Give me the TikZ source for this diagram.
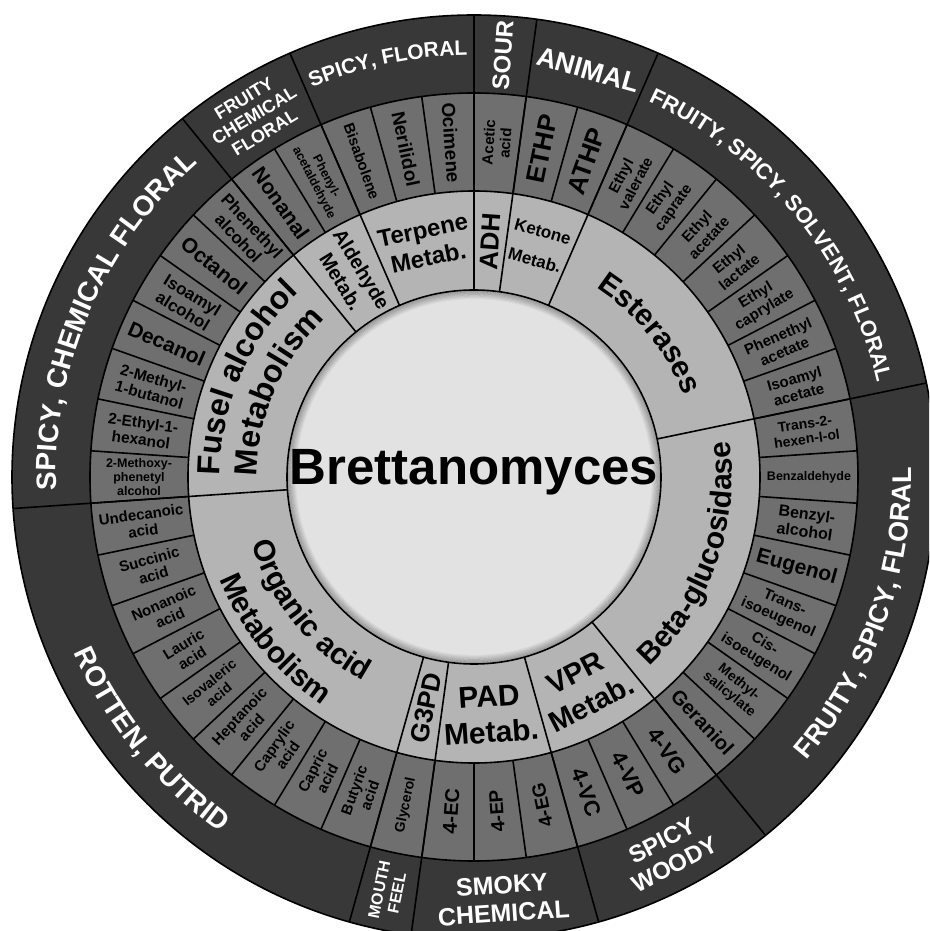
\documentclass[tikz,border=0pt]{standalone}
\usepackage{fontspec}
\setmainfont{Liberation Sans}
\usetikzlibrary{decorations.text}

\definecolor{flavourgray}{HTML}{383838}
\definecolor{compoundgray}{HTML}{6F6F6F}
\definecolor{enzymegray}{HTML}{B4B4B4}
\definecolor{hubgray}{HTML}{E2E2E2}

\newcommand{\fsz}[2]{\fontsize{#1}{#2}\selectfont\bfseries}

\tikzset{
  wedge/.style={line width=1.6pt, black},
  compound/.style={align=center, inner sep=0pt, text=black},
  enzyme/.style={align=center, inner sep=0pt, text=black},
  flavour/.style={align=center, inner sep=0pt, text=white},
  arclabel/.style={decorate, decoration={text along path, text align=center, text={#1}}}
}

\begin{document}
\begin{tikzpicture}[x=1pt, y=1pt]
    \useasboundingbox (-474,-454) rectangle (455,477);
    \clip (-474,-454) rectangle (455,477);
    % rings
    \fill[flavourgray] (0,0) circle[radius=462pt];
    \fill[compoundgray] (0,0) circle[radius=384pt];
    \fill[enzymegray] (0,0) circle[radius=286pt];
    \fill[hubgray] (0,0) circle[radius=187pt];
    % shadow round the hub
    \foreach \i in {1,...,7} {
        \pgfmathsetmacro\rr{187-1.2*\i}
        \pgfmathsetmacro\op{0.32-0.04*\i}
        \draw[black, opacity=\op, line width=1.3pt] (0,0) circle[radius=\rr pt];
    }
    \foreach \r in {462,384,286,187} \draw[wedge] (0,0) circle[radius=\r pt];
    % spokes
    \foreach \k in {0,...,45} \draw[wedge] ({90-\k*360/46}:286pt) -- ({90-\k*360/46}:384pt);
    \foreach \k in {0,1,3,10,18,21,24,25,34,41,43}
        \draw[wedge] ({90-\k*360/46}:187pt) -- ({90-\k*360/46}:462pt);

    % hub
    \node[font=\fsz{51}{51}] (hub) at (0,5) {Brettanomyces};

    % compounds
    \foreach \k/\name/\fs in {0/{Acetic\\acid}/15, 1/ETHP/26, 2/ATHP/26,
        3/{Ethyl\\valerate}/15, 4/{Ethyl\\caprate}/15, 5/{Ethyl\\acetate}/15,
        6/{Ethyl\\lactate}/15, 7/{Ethyl\\caprylate}/15, 8/{Phenethyl\\acetate}/15,
        9/{Isoamyl\\acetate}/15, 10/{Trans-2-\\hexen-l-ol}/14, 11/Benzaldehyde/12.5,
        12/{Benzyl-\\alcohol}/16, 13/Eugenol/21, 14/{Trans-\\isoeugenol}/15,
        15/{Cis-\\isoeugenol}/15, 16/{Methyl-\\salicylate}/14, 17/Geraniol/20,
        18/4-VG/22, 19/4-VP/22, 20/4-VC/22, 21/4-EG/19, 22/4-EP/19, 23/4-EC/20,
        24/Glycerol/14, 25/{Butyric\\acid}/15, 26/{Capric\\acid}/15,
        27/{Caprylic\\acid}/15, 28/{Heptanoic\\acid}/15, 29/{Isovaleric\\acid}/14,
        30/{Lauric\\acid}/15, 31/{Nonanoic\\acid}/15, 32/{Succinic\\acid}/15,
        33/{Undecanoic\\acid}/15, 34/{2-Methoxy-\\phenetyl\\alcohol}/12.5,
        35/{2-Ethyl-1-\\hexanol}/15.5, 36/{2-Methyl-\\1-butanol}/15.5, 37/Decanol/21,
        38/{Isoamyl\\alcohol}/17, 39/Octanol/21, 40/{Phenethyl\\alcohol}/17,
        41/Nonanal/21, 42/{Phenyl-\\acetaldehyde}/12.5, 43/Bisabolene/15,
        44/Nerilidol/19, 45/Ocimene/19} {
        \pgfmathsetmacro\ang{90-(\k+0.5)*360/46}
        \pgfmathsetmacro\rot{\k<21 ? \ang : \ang+180}
        \pgfmathsetmacro\bs{1.1*\fs}
        \node[compound, rotate=\rot, font=\fsz{\fs}{\bs}] (c\k) at (\ang:335pt) {\name};
    }

    % enzymes
    \node[enzyme, rotate=86.09, font=\fsz{26}{28}] (adh) at (86.09:236pt) {ADH};
    \node[enzyme, rotate=-15.65, font=\fsz{17}{30}] (ketone) at (74.35:240pt) {Ketone\\Metab.};
    \node[enzyme, rotate=11.74, font=\fsz{24}{28}] (terpene) at (101.74:238pt) {Terpene\\Metab.};
    \node[enzyme, rotate=-58.70, font=\fsz{20}{24}] (aldehyde) at (121.30:236pt) {Aldehyde\\Metab.};
    \node[enzyme, rotate=78.26, font=\fsz{26}{28}] (g3pd) at (-101.74:236pt) {G3PD};
    \node[enzyme, rotate=3.91, font=\fsz{30}{36}] (pad) at (-86.09:238pt) {PAD\\Metab.};
    \node[enzyme, rotate=27.39, font=\fsz{29}{35}] (vpr) at (-62.61:238pt) {VPR\\Metab.};
    \path[arclabel={|\fsz{32}{32}|Fusel alcohol}]
        (183.91:254pt) arc[start angle=183.91, end angle=129.13, radius=254pt];
    \path[arclabel={|\fsz{32}{32}|Metabolism}]
        (183.91:217pt) arc[start angle=183.91, end angle=129.13, radius=217pt];
    \path[arclabel={|\fsz{30}{30}|Esterases}]
        (66.52:225pt) arc[start angle=66.52, end angle=11.74, radius=225pt];
    \path[arclabel={|\fsz{30}{30}|Beta-glucosidase}]
        (-50.87:258pt) arc[start angle=-50.87, end angle=11.74, radius=258pt];
    \path[arclabel={|\fsz{30}{30}|Organic acid}]
        (183.91:232pt) arc[start angle=183.91, end angle=254.35, radius=232pt];
    \path[arclabel={|\fsz{30}{30}|Metabolism}]
        (183.91:274pt) arc[start angle=183.91, end angle=254.35, radius=274pt];

    % flavours
    \node[flavour, rotate=86.09, font=\fsz{24}{26}] (sour) at (86.09:423pt) {SOUR};
    \node[flavour, rotate=-15.65, font=\fsz{27}{29}] (animal) at (74.35:423pt) {ANIMAL};
    \node[flavour, rotate=31.30, font=\fsz{18}{20}] (fcf) at (121.30:423pt) {FRUITY\\CHEMICAL\\FLORAL};
    \node[flavour, rotate=27.39, font=\fsz{24}{27}] (woody) at (-62.61:423pt) {SPICY\\WOODY};
    \node[flavour, rotate=3.91, font=\fsz{25}{28}] (smoky) at (-86.09:423pt) {SMOKY\\CHEMICAL};
    \node[flavour, rotate=78.26, font=\fsz{16}{18}] (mouth) at (-101.74:423pt) {MOUTH\\FEEL};
    \path[arclabel={|\fsz{28}{28}\color{white}|SPICY, CHEMICAL FLORAL}]
        (183.91:418pt) arc[start angle=183.91, end angle=129.13, radius=418pt];
    \path[arclabel={|\fsz{21}{21}\color{white}|SPICY, FLORAL}]
        (113.48:422pt) arc[start angle=113.48, end angle=90, radius=422pt];
    \path[arclabel={|\fsz{22}{22}\color{white}|FRUITY, SPICY, SOLVENT, FLORAL}]
        (66.52:414pt) arc[start angle=66.52, end angle=11.74, radius=414pt];
    \path[arclabel={|\fsz{27}{27}\color{white}|FRUITY, SPICY, FLORAL}]
        (-50.87:437pt) arc[start angle=-50.87, end angle=11.74, radius=437pt];
    \path[arclabel={|\fsz{28}{28}\color{white}|ROTTEN, PUTRID}]
        (183.91:437pt) arc[start angle=183.91, end angle=254.35, radius=437pt];
\end{tikzpicture}
\end{document}
